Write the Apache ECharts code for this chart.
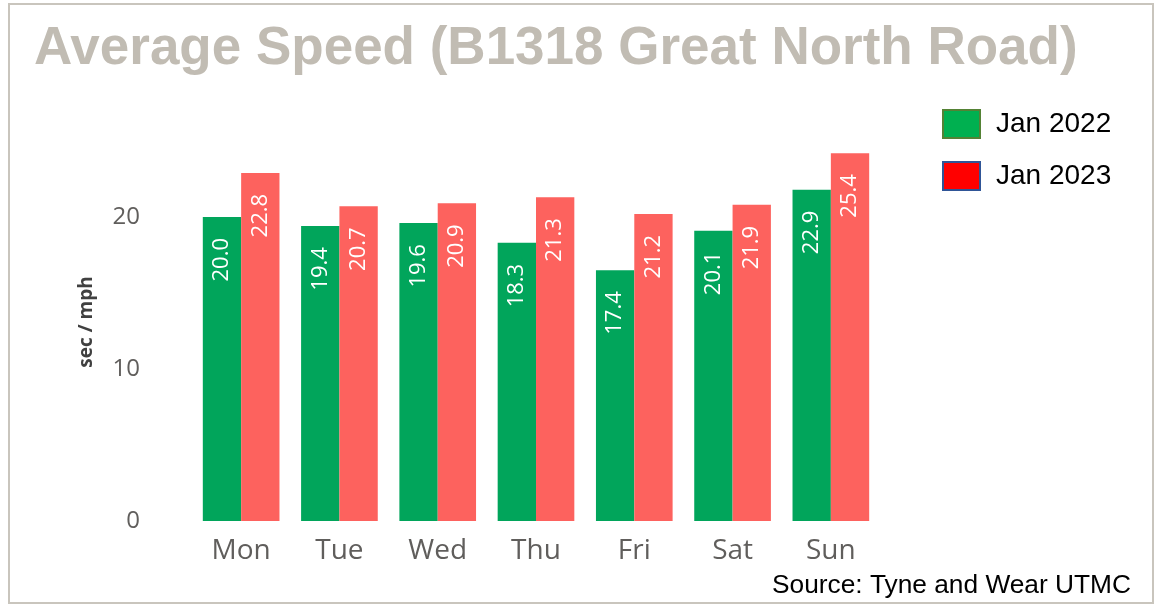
<!DOCTYPE html>
<html>
<head>
<meta charset="utf-8">
<script src="https://cdn.jsdelivr.net/npm/echarts@6/dist/echarts.min.js"></script>
<style>
html,body{margin:0;padding:0;background:#fff;}
#chart{width:1166px;height:606px;}
</style>
</head>
<body>
<div id="chart"></div>
<script>
const days = ['Mon', 'Tue', 'Wed', 'Thu', 'Fri', 'Sat', 'Sun'];
// bar heights as drawn in the picture
const jan2022 = [20.0, 19.4, 19.6, 18.3, 16.5, 19.1, 21.8];
const jan2023 = [22.9, 20.7, 20.9, 21.3, 20.2, 20.8, 24.2];
// data label texts as printed on the bars
const labels2022 = ['20.0', '19.4', '19.6', '18.3', '17.4', '20.1', '22.9'];
const labels2023 = ['22.8', '20.7', '20.9', '21.3', '21.2', '21.9', '25.4'];
const yTicks = [0, 10, 20];

const chart = echarts.init(document.getElementById('chart'));
const labelStyle = (texts) => ({
  show: true,
  position: 'insideTop',
  rotate: 90,
  align: 'right',
  verticalAlign: 'middle',
  distance: 21,
  color: '#ffffff',
  fontFamily: 'Open Sans',
  fontSize: 22,
  formatter: (p) => texts[p.dataIndex]
});

chart.setOption({
  animation: false,
  backgroundColor: '#ffffff',
  title: {
    text: 'Average Speed (B1318 Great North Road)',
    left: 29,
    top: 18,
    textStyle: {
      color: '#c1bcb3',
      fontFamily: 'Liberation Sans',
      fontWeight: 'bold',
      fontSize: 53
    }
  },
  legend: {
    orient: 'vertical',
    left: 937,
    top: 104,
    itemWidth: 37,
    itemHeight: 28,
    itemGap: 22,
    icon: 'rect',
    textStyle: {
      color: '#000',
      fontFamily: 'Liberation Sans',
      fontSize: 28,
      padding: [0, 0, 0, 11]
    },
    data: [
      { name: 'Jan 2022', itemStyle: { color: '#00b050', borderColor: '#548235', borderWidth: 2 } },
      { name: 'Jan 2023', itemStyle: { color: '#ff0000', borderColor: '#2f5597', borderWidth: 2 } }
    ]
  },
  grid: { left: 192, right: 286, top: 141, bottom: 85 },
  xAxis: {
    type: 'category',
    data: days,
    axisLine: { show: false },
    axisTick: { show: false },
    axisLabel: {
      color: '#605e5c',
      fontFamily: 'Open Sans',
      fontSize: 28,
      margin: 16
    }
  },
  yAxis: {
    type: 'value',
    min: 0,
    max: 25,
    interval: 10,
    name: 'sec / mph',
    nameLocation: 'middle',
    nameGap: 96,
    nameTextStyle: {
      color: '#404040',
      fontFamily: 'Open Sans',
      fontWeight: 'bold',
      fontSize: 19,
      padding: [0, 0, 0, 18]
    },
    axisLine: { show: false },
    axisTick: { show: false },
    splitLine: { show: false },
    axisLabel: {
      color: '#605e5c',
      fontFamily: 'Open Sans',
      fontSize: 24,
      margin: 52,
      formatter: (v) => (yTicks.indexOf(v) >= 0 ? String(v) : '')
    }
  },
  series: [
    {
      name: 'Jan 2022',
      type: 'bar',
      data: jan2022,
      barGap: '0%',
      barCategoryGap: '22%',
      itemStyle: { color: '#01a55b' },
      label: labelStyle(labels2022)
    },
    {
      name: 'Jan 2023',
      type: 'bar',
      data: jan2023,
      barGap: '0%',
      barCategoryGap: '22%',
      itemStyle: { color: '#fd625e' },
      label: labelStyle(labels2023)
    }
  ],
  graphic: [
    {
      type: 'rect',
      shape: { x: 9, y: 4, width: 1144, height: 599 },
      style: { fill: 'none', stroke: '#c9c5bd', lineWidth: 2 },
      silent: true
    },
    {
      type: 'text',
      right: 35,
      top: 573,
      style: {
        text: 'Source: Tyne and Wear UTMC',
        fill: '#000',
        font: '26.3px "Liberation Sans"'
      }
    }
  ]
});
</script>
</body>
</html>
